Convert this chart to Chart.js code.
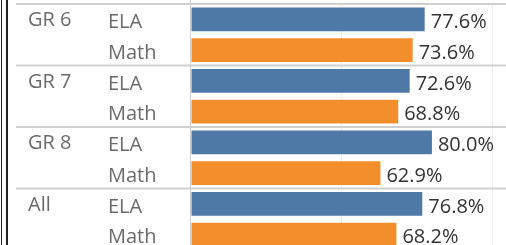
<!DOCTYPE html>
<html>
<head>
<meta charset="utf-8">
<script src="https://cdn.jsdelivr.net/npm/chart.js@4/dist/chart.umd.min.js"></script>
<style>
  html, body { margin: 0; padding: 0; background: #fff; overflow: hidden; }
  #wrap { position: relative; width: 506px; height: 250px; }
</style>
</head>
<body>
<div id="wrap"><canvas id="scoresChart"></canvas></div>
<script>
// data
const groups = ['GR 6', 'GR 7', 'GR 8', 'All'];
const subjects = ['ELA', 'Math'];
const elaValues = [77.6, 72.6, 80.0, 76.8];
const mathValues = [73.6, 68.8, 62.9, 68.2];
const gridTicks = [0, 50, 100];

const FONT = '"Open Sans", "DejaVu Sans", sans-serif';
const BLUE = '#4e79a7';
const ORANGE = '#f28e2b';

// one row per group/subject pair
const labels = [];
const values = [];
const colors = [];
groups.forEach(function(g, i) {
  labels.push(subjects[0]); values.push(elaValues[i]); colors.push(BLUE);
  labels.push(subjects[1]); values.push(mathValues[i]); colors.push(ORANGE);
});

// group names, separators and frame lines
const groupPlugin = {
  id: 'groupPlugin',
  beforeDatasetsDraw(chart) {
    const ctx = chart.ctx;
    const y = chart.scales.y;
    const x = chart.scales.x;
    const area = chart.chartArea;
    ctx.save();
    // vertical line at zero
    ctx.strokeStyle = '#cfcfcf';
    ctx.lineWidth = 1;
    ctx.beginPath();
    ctx.moveTo(Math.round(x.getPixelForValue(0)) - 0.5, 0);
    ctx.lineTo(Math.round(x.getPixelForValue(0)) - 0.5, chart.height);
    ctx.stroke();
    // group separators
    ctx.strokeStyle = '#d0d0d0';
    ctx.lineWidth = 2;
    for (let i = 0; i < groups.length; i++) {
      let sy;
      if (i === 0) sy = area.top;
      else sy = (y.getPixelForValue(2 * i - 1) + y.getPixelForValue(2 * i)) / 2;
      ctx.beginPath();
      ctx.moveTo(16, sy);
      ctx.lineTo(chart.width, sy);
      ctx.stroke();
    }
    // group labels
    ctx.fillStyle = '#6a6a6a';
    ctx.font = '20px ' + FONT;
    ctx.textAlign = 'left';
    ctx.textBaseline = 'middle';
    groups.forEach(function(g, i) {
      ctx.fillText(g, 28, y.getPixelForValue(2 * i) + 1);
    });
    // left frame
    ctx.strokeStyle = '#222';
    ctx.lineWidth = 1;
    ctx.beginPath();
    ctx.moveTo(1.5, 0); ctx.lineTo(1.5, chart.height);
    ctx.stroke();
    ctx.lineWidth = 2;
    ctx.beginPath();
    ctx.moveTo(7, 0); ctx.lineTo(7, chart.height);
    ctx.stroke();
    ctx.restore();
  },
  afterDatasetsDraw(chart) {
    const ctx = chart.ctx;
    const meta = chart.getDatasetMeta(0);
    ctx.save();
    ctx.fillStyle = '#333';
    ctx.font = '20px ' + FONT;
    ctx.textAlign = 'left';
    ctx.textBaseline = 'middle';
    meta.data.forEach(function(bar, i) {
      ctx.fillText(values[i].toFixed(1) + '%', bar.x + 6, bar.y + 3);
    });
    ctx.restore();
  }
};

new Chart(document.getElementById('scoresChart'), {
  type: 'bar',
  data: {
    labels: labels,
    datasets: [{
      data: values,
      backgroundColor: colors,
      borderWidth: 0,
      categoryPercentage: 1,
      barPercentage: 0.78
    }]
  },
  options: {
    indexAxis: 'y',
    responsive: true,
    maintainAspectRatio: false,
    animation: false,
    layout: { padding: { left: 108, top: 4, right: 0, bottom: 0 } },
    plugins: { legend: { display: false }, tooltip: { enabled: false } },
    scales: {
      x: {
        min: 0,
        max: 104.6,
        afterBuildTicks: function(scale) {
          scale.ticks = gridTicks.map(function(v) { return { value: v }; });
        },
        afterFit: function(scale) {
          scale.height = 0;
          scale.paddingLeft = 0;
          scale.paddingRight = 0;
        },
        ticks: { display: false },
        border: { display: false },
        grid: {
          drawTicks: false,
          color: function(c) { return c.tick && c.tick.value === 0 ? 'rgba(0,0,0,0)' : '#eeeeee'; },
          lineWidth: 1
        }
      },
      y: {
        afterFit: function(scale) {
          scale.width = 83;
          scale.paddingTop = 0;
          scale.paddingBottom = 0;
        },
        border: { display: false },
        grid: { display: false },
        ticks: {
          crossAlign: 'far',
          color: '#6a6a6a',
          padding: 0,
          labelOffset: 3,
          font: { family: FONT, size: 20 }
        }
      }
    }
  },
  plugins: [groupPlugin]
});
</script>
</body>
</html>
